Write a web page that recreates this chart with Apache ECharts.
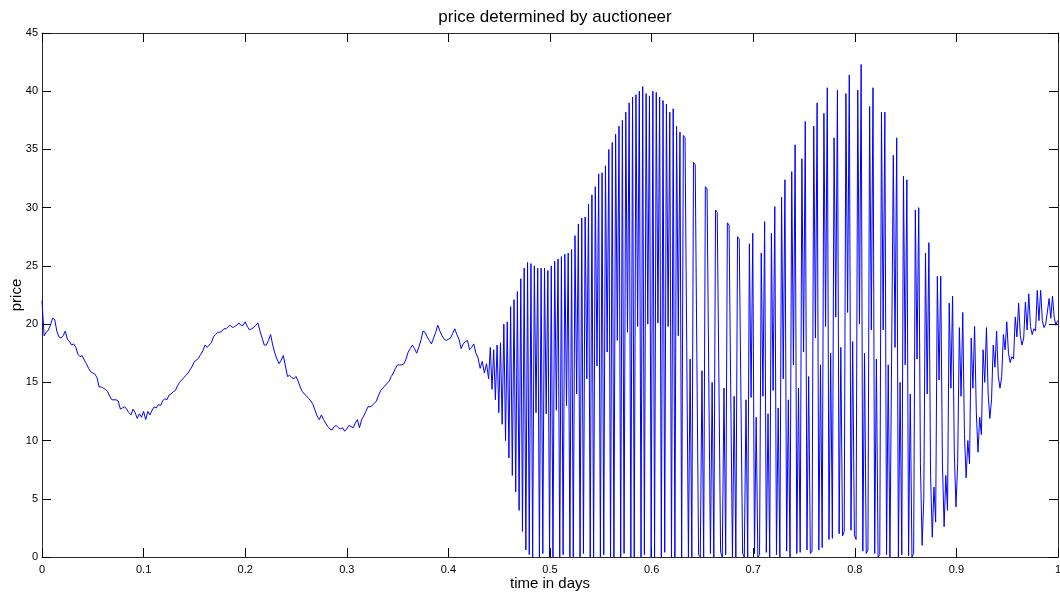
<!DOCTYPE html>
<html>
<head>
<meta charset="utf-8">
<title>price determined by auctioneer</title>
<script src="https://cdn.jsdelivr.net/npm/echarts@6.0.0/dist/echarts.min.js"></script>
<style>
  html, body { margin: 0; padding: 0; background: #fff; }
  #chart { width: 1060px; height: 594px; }
</style>
</head>
<body>
<div id="chart"></div>
<script>
// calm stretch read every 3 minutes, the flip-flop stretch every 2.4 minutes
const calmPerDay = 480
const swingPerDay = 600

// t = 0 .. 0.4375
const calmPrice = [
  22.0, 19.0, 19.3, 19.5, 19.9, 20.5, 20.4, 19.4, 18.9, 18.8,
  19.0, 19.4, 18.7, 18.5, 18.2, 18.3, 18.0, 17.4, 17.2, 17.3,
  16.9, 16.6, 16.2, 15.9, 15.8, 15.7, 15.4, 14.6, 14.6, 14.5,
  14.4, 14.2, 13.8, 13.5, 13.5, 13.5, 13.4, 12.7, 12.8, 12.9,
  12.7, 12.4, 12.2, 12.7, 12.4, 11.9, 12.3, 12.0, 12.5, 11.8,
  12.5, 12.2, 12.6, 12.9, 12.8, 13.1, 13.0, 13.4, 13.6, 13.5,
  13.9, 14.0, 14.2, 14.3, 14.7, 15.0, 15.2, 15.4, 15.6, 15.8,
  16.1, 16.4, 16.8, 16.9, 17.1, 17.4, 17.7, 18.2, 18.0, 18.2,
  18.4, 18.9, 19.1, 19.3, 19.3, 19.4, 19.6, 19.6, 19.8, 19.9,
  19.7, 19.8, 19.9, 20.1, 19.9, 19.9, 20.2, 19.8, 19.5, 19.6,
  19.7, 19.9, 20.1, 19.4, 18.8, 18.2, 18.2, 18.6, 19.1, 18.2,
  17.5, 17.0, 16.6, 16.9, 17.3, 16.4, 15.5, 15.6, 15.4, 15.3,
  15.5, 15.1, 14.6, 14.2, 14.0, 13.8, 13.6, 13.4, 13.1, 12.6,
  12.1, 11.8, 12.2, 11.8, 11.5, 11.2, 11.0, 10.9, 11.2, 11.3,
  11.1, 11.0, 11.1, 10.8, 11.0, 11.3, 11.2, 11.1, 11.5, 11.8,
  11.1, 11.8, 12.1, 12.5, 12.9, 12.9, 13.0, 13.2, 13.4, 13.9,
  14.3, 14.5, 14.7, 14.9, 15.1, 15.5, 15.8, 16.2, 16.5, 16.5,
  16.5, 16.6, 17.0, 17.6, 17.9, 18.2, 17.9, 17.5, 18.0, 18.6,
  19.4, 19.3, 18.9, 18.6, 18.3, 18.8, 19.3, 19.9, 19.4, 19.0,
  18.7, 18.6, 18.7, 18.8, 19.2, 19.6, 19.1, 18.7, 17.9, 18.3,
  18.5, 18.6, 17.8, 18.0, 18.3, 17.5, 17.1, 16.2, 16.8, 15.8,
  16.6
]

// t = 0.440 .. 0.478 : the swing opens up
const onsetPrice = [
  15.3, 18.0, 14.4, 17.8, 13.5, 18.2, 12.4, 18.4, 11.4, 20.0,
  10.0, 20.2, 8.5, 21.5, 7.0, 22.1, 5.6, 22.8, 4.0, 23.9,
  2.2, 24.8, 0.6, 25.3
]

// t = 0.480 .. 0.628 : top, bottom, top, bottom, top, middle
const burstPrice = [
  0.2, 25.2, 0, 25.0, 12.4, 24.8,
  0, 24.8, 0.3, 24.8, 12.3, 24.6,
  0, 25.0, 0, 25.4, 12.6, 25.6,
  0, 25.8, 0.2, 26.0, 13.0, 26.1,
  0, 26.4, 0, 27.6, 14.0, 28.6,
  0, 29.1, 0.3, 29.2, 15.3, 30.3,
  0, 31.1, 0, 31.8, 16.4, 32.9,
  0, 33.0, 0.2, 33.6, 17.6, 35.0,
  0, 35.6, 0, 36.3, 18.6, 37.0,
  0, 37.5, 0.3, 38.2, 19.3, 39.0,
  0, 39.5, 0, 39.7, 19.8, 40.0,
  0, 40.4, 0.2, 39.8, 20.0, 39.6,
  0, 40.0, 0, 39.9, 20.1, 39.5,
  0, 39.2, 0.4, 38.9, 19.8, 38.2,
  0, 38.5, 0, 37.0, 19.0, 36.5
]

// t = 0.630 .. 0.695 : wide double-topped spikes with a shelf
const sparsePrice = [
  0,
  36.2, 36.0, 18.0, 0, 17.0, 0,
  33.9, 33.7, 16.9, 0.2, 0, 16.0, 0,
  31.8, 31.6, 15.5, 0.3, 15.0, 0,
  29.8, 29.6, 15.2, 0.4, 0, 14.5, 0.2,
  28.7, 28.5, 14.1, 0, 13.8, 0,
  27.5, 27.3, 13.8, 0.3, 0, 13.5, 0
]

// t = 0.697 .. 1 : paired spikes, then the swing dies out near 20
const pairedPrice = [
  26.9, 13.7, 27.8, 0.3, 12.0, 0, 0.2,
  26.1, 13.8, 28.8, 0.4, 12.3, 0,
  27.8, 14.3, 30.1, 0.2, 12.8, 0,
  30.9, 15.3, 32.4, 0.5, 13.5, 0,
  33.1, 16.5, 35.4, 0.3, 14.5, 0.4,
  34.2, 17.6, 37.4, 0.6, 15.5, 0.3, 0.5,
  37.0, 18.8, 39.0, 0.6, 16.5, 0.8,
  38.1, 19.8, 40.3, 1.5, 17.5, 1.6,
  36.0, 20.6, 40.1, 2.0, 18.0, 1.8, 2.2,
  39.8, 21.0, 41.4, 2.3, 18.5, 1.9, 1.5,
  40.1, 20.0, 42.3, 0.5, 17.5, 0.3, 0.6,
  38.7, 19.5, 40.3, 0.3, 17.0, 0, 0.2,
  38.2, 19.5, 38.2, 0.2, 16.5, 0, 0,
  34.5, 18.0, 36.0, 0, 15.0, 0.2,
  32.7, 16.5, 32.4, 0.1, 14.0, 0, 0.3,
  29.8, 17.0, 30.0, 8.0, 1.0, 5.0,
  26.1, 14.0, 27.0, 7.0, 1.7, 6.0, 3.0,
  24.1, 15.2, 24.1, 8.0, 2.6, 7.0, 4.0,
  21.8, 14.5, 22.4, 9.0, 4.3, 8.0,
  19.7, 13.8, 21.0, 10.5, 6.8, 10.0, 8.0,
  18.8, 14.5, 19.8, 12.5, 9.0, 12.0, 10.5,
  17.8, 15.0, 19.7, 14.0, 11.9, 13.5,
  18.2, 16.3, 19.4, 15.5, 14.5, 15.5,
  19.1, 17.8, 20.2, 17.5, 16.7, 17.2, 17.0,
  20.6, 18.9, 21.8, 19.0, 18.2, 18.8,
  21.9, 19.5, 22.6, 19.8, 19.1, 19.6, 19.4,
  22.9, 20.3, 22.9, 20.3, 19.7, 20.0, 19.9,
  22.2, 20.5, 22.4, 20.6, 19.9, 20.3
]

const timeTicks = [0, 0.1, 0.2, 0.3, 0.4, 0.5, 0.6, 0.7, 0.8, 0.9, 1]
const priceTicks = [0, 5, 10, 15, 20, 25, 30, 35, 40, 45]

const swingFrom = calmPrice.length / calmPerDay
const swingPrice = [...onsetPrice, ...burstPrice, ...sparsePrice, ...pairedPrice]
const points = [
  ...calmPrice.map((p, i) => [i / calmPerDay, p]),
  ...swingPrice.map((p, k) => [swingFrom + k / swingPerDay, p])
]

const font = "'Liberation Sans', Arial, sans-serif"
const frame = { show: true, onZero: false, lineStyle: { color: "#2b2b2b", width: 1 } }
const tick = { show: true, inside: true, length: 9, lineStyle: { color: "#000" } }
const nameStyle = { fontFamily: font, fontSize: 15, color: "#000" }

function timeAxis(position, labels) {
  return {
    type: "value",
    position,
    min: timeTicks[0],
    max: timeTicks[timeTicks.length - 1],
    interval: 0.1,
    axisLine: frame,
    axisTick: tick,
    splitLine: { show: false },
    axisLabel: {
      show: labels,
      margin: 7,
      color: "#000",
      fontFamily: font,
      fontSize: 11,
      formatter: v => String(Math.round(v * 10) / 10)
    }
  }
}

function priceAxis(position, labels) {
  return {
    type: "value",
    position,
    min: priceTicks[0],
    max: priceTicks[priceTicks.length - 1],
    interval: 5,
    axisLine: frame,
    axisTick: tick,
    splitLine: { show: false },
    axisLabel: { show: labels, margin: 4, color: "#000", fontFamily: font, fontSize: 11 }
  }
}

const chart = echarts.init(document.getElementById("chart"), null, { renderer: "canvas" })

chart.setOption({
  animation: false,
  backgroundColor: "#fff",
  title: {
    text: "price determined by auctioneer",
    left: 550,
    textAlign: "center",
    top: 4,
    textStyle: { fontFamily: font, fontSize: 17, fontWeight: "normal", color: "#000" }
  },
  grid: { left: 42, right: 2, top: 33, bottom: 37, containLabel: false, outerBoundsMode: "none" },
  xAxis: [
    Object.assign(timeAxis("bottom", true), {
      name: "time in days",
      nameLocation: "middle",
      nameGap: 19,
      nameMoveOverlap: false,
      nameTextStyle: nameStyle
    }),
    timeAxis("top", false)
  ],
  yAxis: [
    Object.assign(priceAxis("left", true), {
      name: "price",
      nameLocation: "middle",
      nameGap: 18,
      nameMoveOverlap: false,
      nameTextStyle: nameStyle
    }),
    priceAxis("right", false)
  ],
  series: [{
    type: "line",
    data: points,
    symbol: "none",
    clip: true,
    lineStyle: { color: "#0000ff", width: 1 }
  }]
})
</script>
</body>
</html>
